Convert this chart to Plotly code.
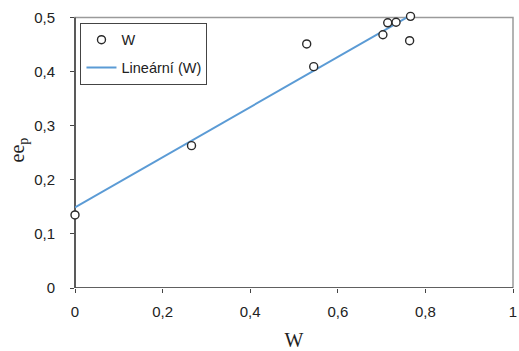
import numpy as np
import plotly.graph_objects as go

# Data
w_values = [0.0, 0.266, 0.529, 0.545, 0.703, 0.714, 0.733, 0.766, 0.764]
eep_values = [0.135, 0.263, 0.451, 0.409, 0.468, 0.490, 0.491, 0.502, 0.457]
x_tick_vals = [0, 0.2, 0.4, 0.6, 0.8, 1]
x_tick_text = ["0", "0,2", "0,4", "0,6", "0,8", "1"]
y_tick_vals = [0, 0.1, 0.2, 0.3, 0.4, 0.5]
y_tick_text = ["0", "0,1", "0,2", "0,3", "0,4", "0,5"]

# Linear trendline (Excel-style) fitted to the data
slope, intercept = np.polyfit(w_values, eep_values, 1)
trend_x = [min(w_values), max(w_values)]
trend_y = [intercept + slope * v for v in trend_x]

fig = go.Figure()
fig.add_trace(go.Scatter(
    x=trend_x, y=trend_y, mode="lines", name="Lineární (W)",
    line=dict(color="#5b9bd5", width=2), legendgroup="b", legendrank=2,
    cliponaxis=False,
))
fig.add_trace(go.Scatter(
    x=w_values, y=eep_values, mode="markers", name="W",
    marker=dict(symbol="circle", size=8, color="white",
                line=dict(color="#2a2a2a", width=1.4)),
    legendgroup="a", legendrank=1, cliponaxis=False,
))

axis_font = dict(family="Liberation Sans, Arial, sans-serif", size=15, color="#222222")
title_font = dict(family="Liberation Serif, Times New Roman, serif", size=20, color="#222222")
fig.update_layout(
    width=519, height=351,
    margin=dict(l=74.5, r=6, t=12.3, b=63.3, autoexpand=False),
    paper_bgcolor="white", plot_bgcolor="white",
    showlegend=True,
    legend=dict(
        x=0.0125, y=0.961, xanchor="left", yanchor="top",
        bgcolor="white", bordercolor="#444444", borderwidth=1,
        font=dict(family="Liberation Sans, Arial, sans-serif", size=14.5, color="#222222"),
        traceorder="grouped", tracegroupgap=6,
    ),
    xaxis=dict(
        range=[0, 1], tickvals=x_tick_vals, ticktext=x_tick_text,
        showgrid=False, zeroline=False, showline=False, automargin=False,
        ticks="outside", ticklen=4, tickcolor="#444444", tickwidth=1.2,
        ticklabelstandoff=6, ticklabeloverflow="allow",
        tickfont=axis_font,
        title=dict(text="W", font=title_font, standoff=18),
    ),
    yaxis=dict(
        range=[0, 0.51], tickvals=y_tick_vals, ticktext=y_tick_text,
        showgrid=False, zeroline=False, showline=False, automargin=False,
        ticks="outside", ticklen=4, tickcolor="#444444", tickwidth=1.2,
        ticklabelstandoff=12,
        tickfont=axis_font,
        title=dict(text="ee<sub>p</sub>", font=title_font, standoff=4),
    ),
    shapes=[
        dict(type="rect", xref="x domain", yref="y", x0=0, x1=1, y0=0, y1=0.5,
             line=dict(color="#9a9a9a", width=1.5), layer="below"),
        dict(type="line", xref="x domain", yref="y", x0=0, x1=0, y0=0, y1=0.5,
             line=dict(color="#444444", width=1.6), layer="below"),
        dict(type="line", xref="x domain", yref="y", x0=0, x1=1, y0=0, y1=0,
             line=dict(color="#444444", width=1.6), layer="below"),
    ],
)

fig.write_html("out.html")
